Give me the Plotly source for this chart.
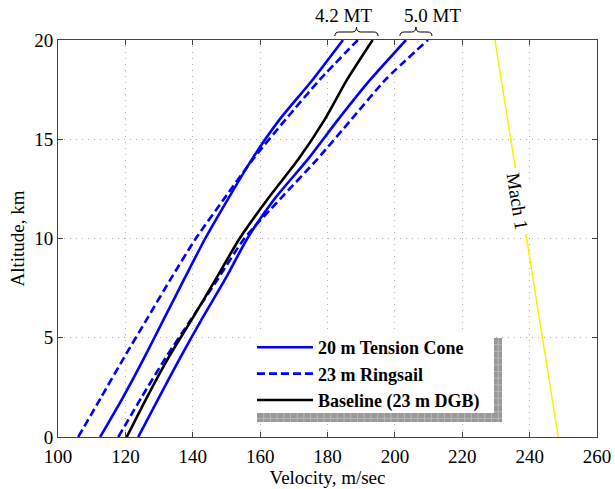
import plotly.graph_objects as go

# Altitude grid (km) and velocity profiles (m/sec)
altitude = [0, 2, 4, 6, 8, 10, 12, 14, 16, 18, 20]
tension_cone_42 = [112.5, 119.3, 125.6, 131.6, 137.6, 143.7, 150.5, 157.6, 165.8, 175.6, 184.6]
ringsail_42 = [106.0, 112.8, 119.6, 126.6, 133.6, 140.9, 149.3, 157.9, 167.6, 177.7, 189.0]
tension_cone_50 = [123.8, 130.0, 136.3, 142.9, 149.8, 156.2, 164.3, 174.2, 183.2, 192.7, 203.3]
ringsail_50 = [117.9, 124.8, 132.0, 139.8, 147.6, 155.3, 166.0, 177.0, 187.1, 197.2, 209.8]
baseline_dgb = [120.4, 126.4, 132.8, 140.0, 147.0, 153.9, 162.3, 171.4, 179.2, 185.8, 193.4]

# Mach 1 boundary
mach_altitude = [20, 0]
mach_velocity = [229.7, 248.5]

x_ticks = [100, 120, 140, 160, 180, 200, 220, 240, 260]
y_ticks = [0, 5, 10, 15, 20]
X_RANGE = [100, 260]
Y_RANGE = [0, 20]

# plot-area geometry in pixels (used for decorations placed in paper coordinates)
W, H = 615, 489
ML, MR, MT, MB = 58, 18, 40, 52
PW, PH = W - ML - MR, H - MT - MB

SERIF = "Liberation Serif, Times New Roman, serif"
BLUE = "#0000ff"
DASH = "8px,4px"
LW = 2.6


def line(color, dash=None):
    d = dict(color=color, width=LW, shape="spline", smoothing=0.6)
    if dash:
        d["dash"] = dash
    return d


fig = go.Figure()
fig.add_trace(go.Scatter(x=tension_cone_42, y=altitude, mode="lines", name="20 m Tension Cone",
                         legendgroup="tc", line=line(BLUE)))
fig.add_trace(go.Scatter(x=tension_cone_50, y=altitude, mode="lines", name="20 m Tension Cone",
                         legendgroup="tc", showlegend=False, line=line(BLUE)))
fig.add_trace(go.Scatter(x=ringsail_42, y=altitude, mode="lines", name="23 m Ringsail",
                         legendgroup="rs", line=line(BLUE, DASH)))
fig.add_trace(go.Scatter(x=ringsail_50, y=altitude, mode="lines", name="23 m Ringsail",
                         legendgroup="rs", showlegend=False, line=line(BLUE, DASH)))
fig.add_trace(go.Scatter(x=baseline_dgb, y=altitude, mode="lines", name="Baseline (23 m DGB)",
                         line=line("black")))
fig.add_trace(go.Scatter(x=mach_velocity, y=mach_altitude, mode="lines", showlegend=False,
                         line=dict(color="#ffee00", width=1.5)))


def data_to_paper_x(v):
    return (v - X_RANGE[0]) / (X_RANGE[1] - X_RANGE[0])


def pxx(p):
    return (p - ML) / PW


def pxy(p):
    return (H - MB - p) / PH


def brace_path(x0, x1, yb, ym, yt, r):
    mid = (x0 + x1) / 2
    return (f"M {x0},{yb} Q {x0},{ym} {x0 + r},{ym} L {mid - r},{ym} "
            f"Q {mid},{ym} {mid},{yt} Q {mid},{ym} {mid + r},{ym} "
            f"L {x1 - r},{ym} Q {x1},{ym} {x1},{yb}")


r = 0.008
shapes = [
    dict(type="path", xref="paper", yref="paper",
         path=brace_path(data_to_paper_x(182.2), data_to_paper_x(195.0), pxy(36), pxy(32), pxy(27), r),
         line=dict(color="black", width=1)),
    dict(type="path", xref="paper", yref="paper",
         path=brace_path(data_to_paper_x(201.5), data_to_paper_x(211.0), pxy(36), pxy(32), pxy(27), r),
         line=dict(color="black", width=1)),
]

# legend box with a gridded drop shadow
sx0, sx1, sy0, sy1 = 257, 502, 338, 422
shapes.append(dict(type="rect", xref="paper", yref="paper", x0=pxx(sx0), x1=pxx(sx1),
                   y0=pxy(sy1), y1=pxy(sy0), fillcolor="#999999", line=dict(width=0), layer="above"))
step = 6.7
gx = sx0 + step
while gx < sx1:
    shapes.append(dict(type="line", xref="paper", yref="paper", x0=pxx(gx), x1=pxx(gx),
                       y0=pxy(sy1), y1=pxy(sy0), line=dict(color="#b8b8b8", width=1), layer="above"))
    gx += step
gy = sy0 + step
while gy < sy1:
    shapes.append(dict(type="line", xref="paper", yref="paper", x0=pxx(sx0), x1=pxx(sx1),
                       y0=pxy(gy), y1=pxy(gy), line=dict(color="#b8b8b8", width=1), layer="above"))
    gy += step
shapes.append(dict(type="rect", xref="paper", yref="paper", x0=pxx(252), x1=pxx(494),
                   y0=pxy(413), y1=pxy(333), fillcolor="white", line=dict(width=0), layer="above"))

annotations = [
    dict(text="4.2 MT", x=184.7, xref="x", y=pxy(15), yref="paper", yanchor="middle",
         showarrow=False, font=dict(family=SERIF, size=19, color="black")),
    dict(text="5.0 MT", x=211.2, xref="x", y=pxy(15), yref="paper", yanchor="middle",
         showarrow=False, font=dict(family=SERIF, size=19, color="black")),
    dict(text="Mach 1", x=236.3, xref="x", y=11.85, yref="y", showarrow=False, textangle=81,
         bgcolor="white", borderpad=4,
         font=dict(family=SERIF, size=19, color="black")),
]

axis_common = dict(
    showline=True, linecolor="#444444", linewidth=1, mirror="ticks",
    ticks="inside", ticklen=5, tickcolor="#444444",
    showgrid=True, gridcolor="#b0b0b0", griddash="1px,5px", gridwidth=1,
    zeroline=False, automargin=False,
    tickfont=dict(family=SERIF, size=19, color="black"),
)

fig.update_layout(
    width=W, height=H,
    margin=dict(l=ML, r=MR, t=MT, b=MB),
    plot_bgcolor="white", paper_bgcolor="white",
    xaxis=dict(range=X_RANGE, tickvals=x_ticks, ticktext=[str(v) for v in x_ticks],
               ticklabelstandoff=2,
               title=dict(text="Velocity, m/sec", font=dict(family=SERIF, size=19, color="black"),
                          standoff=0),
               **axis_common),
    yaxis=dict(range=Y_RANGE, tickvals=y_ticks, ticktext=[str(v) for v in y_ticks],
               title=dict(text="Altitude, km", font=dict(family=SERIF, size=19, color="black"),
                          standoff=4),
               **axis_common),
    legend=dict(x=pxx(252), y=pxy(329), xanchor="left", yanchor="top",
                bgcolor="rgba(0,0,0,0)", borderwidth=0, itemwidth=56, tracegroupgap=0,
                font=dict(family=SERIF, size=18, color="black", weight="bold")),
    shapes=shapes,
    annotations=annotations,
    showlegend=True,
)

fig.write_html("out.html")
